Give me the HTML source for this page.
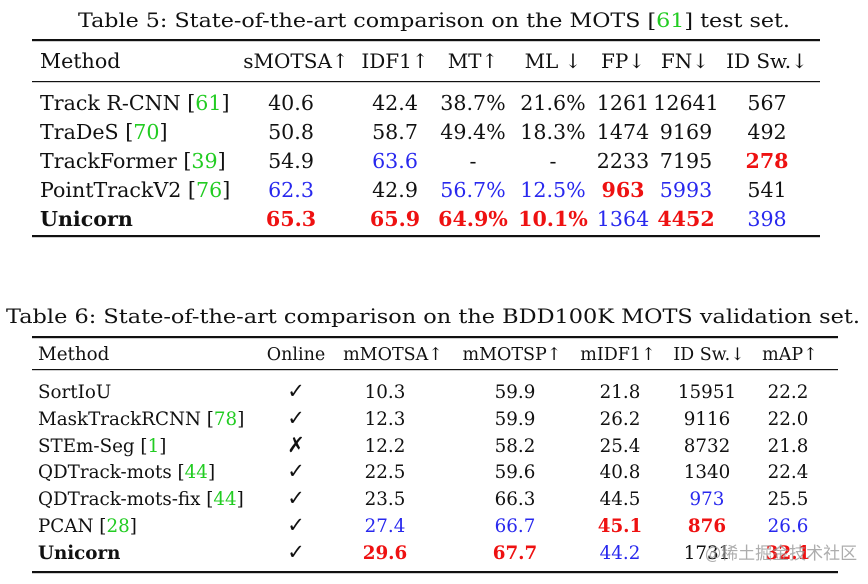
<!DOCTYPE html>
<html><head><meta charset="utf-8"><style>
html,body{margin:0;padding:0;background:#fff;}
text{font-family:"DejaVu Serif","Liberation Serif",serif;}
.r{fill:#ee1111;font-weight:bold}.b{fill:#2828ee}.g{fill:#22cc22}
.ck{font-size:21px}
</style></head><body>
<svg width="868" height="579" viewBox="0 0 868 579">
<g font-size="20.6" fill="#111">
<text x="78" y="27" textLength="712" lengthAdjust="spacingAndGlyphs" font-size="20">Table 5: State-of-the-art comparison on the MOTS [<tspan class="g">61</tspan>] test set.</text>
<rect x="32" y="39" width="788" height="2.2" fill="#111"/>
<rect x="32" y="81" width="788" height="1.2" fill="#111"/>
<rect x="32" y="235" width="788" height="2.2" fill="#111"/>
<g text-anchor="middle">
<text x="40" y="68" text-anchor="start">Method</text>
<text x="296" y="68" font-size="20">sMOTSA↑</text><text x="395" y="68" font-size="20">IDF1↑</text><text x="473" y="68" font-size="20">MT↑</text><text x="553" y="68" font-size="20">ML ↓</text><text x="623" y="68" font-size="20">FP↓</text><text x="685" y="68" font-size="20">FN↓</text><text x="767" y="68" font-size="20">ID Sw.↓</text>
<text x="40" y="110" text-anchor="start">Track R-CNN [<tspan class="g">61</tspan>]</text>
<text x="291" y="110">40.6</text><text x="395" y="110">42.4</text><text x="473" y="110">38.7%</text><text x="553" y="110">21.6%</text><text x="623" y="110">1261</text><text x="686" y="110">12641</text><text x="767" y="110">567</text>
<text x="40" y="139" text-anchor="start">TraDeS [<tspan class="g">70</tspan>]</text>
<text x="291" y="139">50.8</text><text x="395" y="139">58.7</text><text x="473" y="139">49.4%</text><text x="553" y="139">18.3%</text><text x="623" y="139">1474</text><text x="686" y="139">9169</text><text x="767" y="139">492</text>
<text x="40" y="168" text-anchor="start">TrackFormer [<tspan class="g">39</tspan>]</text>
<text x="291" y="168">54.9</text><text x="395" y="168" class="b">63.6</text><text x="473" y="168">-</text><text x="553" y="168">-</text><text x="623" y="168">2233</text><text x="686" y="168">7195</text><text x="767" y="168" class="r">278</text>
<text x="40" y="197" text-anchor="start">PointTrackV2 [<tspan class="g">76</tspan>]</text>
<text x="291" y="197" class="b">62.3</text><text x="395" y="197">42.9</text><text x="473" y="197" class="b">56.7%</text><text x="553" y="197" class="b">12.5%</text><text x="623" y="197" class="r">963</text><text x="686" y="197" class="b">5993</text><text x="767" y="197">541</text>
<text x="40" y="226" text-anchor="start" font-weight="bold">Unicorn</text>
<text x="291" y="226" class="r">65.3</text><text x="395" y="226" class="r">65.9</text><text x="473" y="226" class="r">64.9%</text><text x="553" y="226" class="r">10.1%</text><text x="623" y="226" class="b">1364</text><text x="686" y="226" class="r">4452</text><text x="767" y="226" class="b">398</text>
</g></g>
<g font-size="18.3" fill="#111">
<text x="6" y="323" textLength="854" lengthAdjust="spacingAndGlyphs" font-size="20">Table 6: State-of-the-art comparison on the BDD100K MOTS validation set.</text>
<rect x="32" y="336" width="806" height="2.2" fill="#111"/>
<rect x="32" y="369" width="806" height="1.2" fill="#111"/>
<rect x="32" y="571" width="806" height="2.2" fill="#111"/>
<g text-anchor="middle">
<text x="38" y="360" text-anchor="start">Method</text>
<text x="296" y="360" font-size="17.5">Online</text><text x="393" y="360" font-size="17.5">mMOTSA↑</text><text x="512" y="360" font-size="17.5">mMOTSP↑</text><text x="618" y="360" font-size="17.5">mIDF1↑</text><text x="709" y="360" font-size="17.5">ID Sw.↓</text><text x="790" y="360" font-size="17.5">mAP↑</text>
<text x="38" y="398" text-anchor="start">SortIoU</text>
<text x="296" y="398" class="ck">✓</text><text x="385" y="398">10.3</text><text x="515" y="398">59.9</text><text x="620" y="398">21.8</text><text x="707" y="398">15951</text><text x="788" y="398">22.2</text>
<text x="38" y="425" text-anchor="start">MaskTrackRCNN [<tspan class="g">78</tspan>]</text>
<text x="296" y="425" class="ck">✓</text><text x="385" y="425">12.3</text><text x="515" y="425">59.9</text><text x="620" y="425">26.2</text><text x="707" y="425">9116</text><text x="788" y="425">22.0</text>
<text x="38" y="452" text-anchor="start">STEm-Seg [<tspan class="g">1</tspan>]</text>
<text x="296" y="452" class="ck">✗</text><text x="385" y="452">12.2</text><text x="515" y="452">58.2</text><text x="620" y="452">25.4</text><text x="707" y="452">8732</text><text x="788" y="452">21.8</text>
<text x="38" y="478" text-anchor="start">QDTrack-mots [<tspan class="g">44</tspan>]</text>
<text x="296" y="478" class="ck">✓</text><text x="385" y="478">22.5</text><text x="515" y="478">59.6</text><text x="620" y="478">40.8</text><text x="707" y="478">1340</text><text x="788" y="478">22.4</text>
<text x="38" y="505" text-anchor="start">QDTrack-mots-fix [<tspan class="g">44</tspan>]</text>
<text x="296" y="505" class="ck">✓</text><text x="385" y="505">23.5</text><text x="515" y="505">66.3</text><text x="620" y="505">44.5</text><text x="707" y="505" class="b">973</text><text x="788" y="505">25.5</text>
<text x="38" y="532" text-anchor="start">PCAN [<tspan class="g">28</tspan>]</text>
<text x="296" y="532" class="ck">✓</text><text x="385" y="532" class="b">27.4</text><text x="515" y="532" class="b">66.7</text><text x="620" y="532" class="r">45.1</text><text x="707" y="532" class="r">876</text><text x="788" y="532" class="b">26.6</text>
<text x="38" y="559" text-anchor="start" font-weight="bold">Unicorn</text>
<text x="296" y="559" class="ck">✓</text><text x="385" y="559" class="r">29.6</text><text x="515" y="559" class="r">67.7</text><text x="620" y="559" class="b">44.2</text><text x="707" y="559">1731</text><text x="788" y="559" class="r">32.1</text>
</g>
<text x="705" y="559" style="font-family:'Noto Sans CJK SC',sans-serif" font-size="17" fill="#999" opacity="0.8">@稀土掘金技术社区</text>
</g>
</svg>
</body></html>
